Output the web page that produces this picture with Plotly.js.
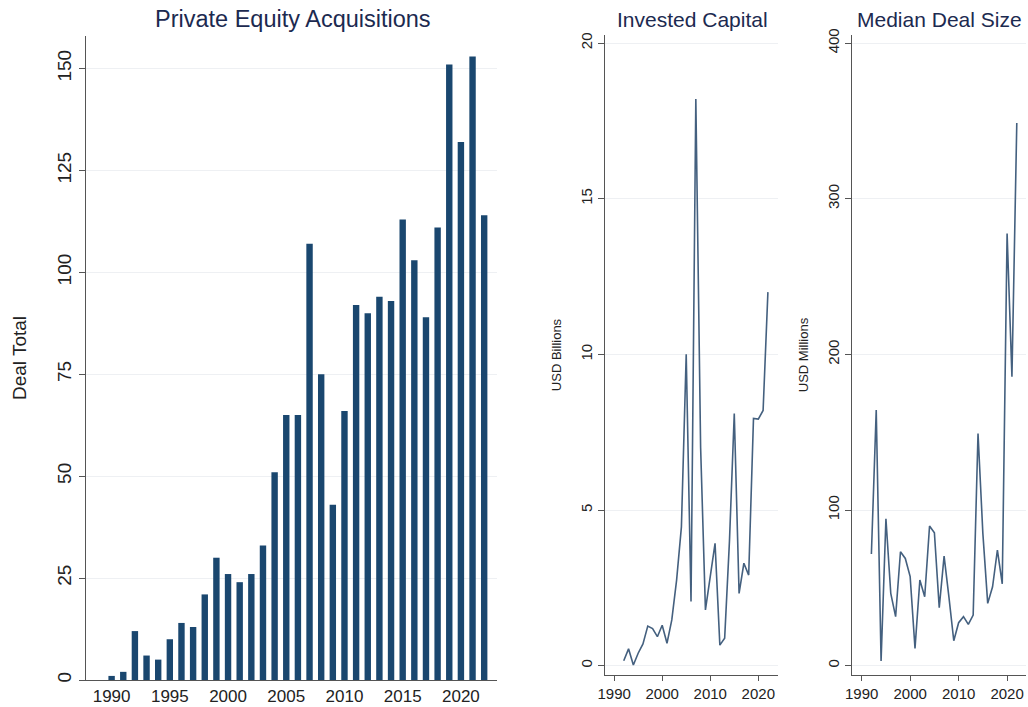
<!DOCTYPE html>
<html>
<head>
<meta charset="utf-8">
<script src="https://cdn.plot.ly/plotly-3.0.1.min.js"></script>
<style>html,body{margin:0;padding:0;background:#fff;}#chart{width:1028px;height:707px;}</style>
</head>
<body>
<div id="chart"></div>
<script>
// Deal totals (bar chart)
const dealYears = [1990,1991,1992,1993,1994,1995,1996,1997,1998,1999,2000,2001,2002,2003,2004,2005,2006,2007,2008,2009,2010,2011,2012,2013,2014,2015,2016,2017,2018,2019,2020,2021,2022];
const dealTotals = [1,2,12,6,5,10,14,13,21,30,26,24,26,33,51,65,65,107,75,43,66,92,90,94,93,113,103,89,111,151,132,153,114];

// Invested capital (USD billions) and median deal size (USD millions)
const lineYears = [1992,1993,1994,1995,1996,1997,1998,1999,2000,2001,2002,2003,2004,2005,2006,2007,2008,2009,2010,2011,2012,2013,2014,2015,2016,2017,2018,2019,2020,2021,2022];
const investedCapital = [0.16,0.54,0.02,0.4,0.7,1.27,1.19,0.93,1.3,0.72,1.47,2.75,4.46,10.0,2.06,18.2,7.0,1.79,2.86,3.93,0.66,0.88,4.0,8.1,2.32,3.29,2.91,7.94,7.92,8.2,12.0];
const medianDealSize = [71.7,164.2,3,94.4,46.5,31.5,73.2,68.9,57.2,11.1,55,44.3,89.7,85.4,37.3,70.4,44,16,27.6,31.5,26.5,32.5,149.2,85,40,50.7,74.3,52.5,277.7,185.6,348.7];

const barTicks = [1990,1995,2000,2005,2010,2015,2020];
const lineTicks = [1990,2000,2010,2020];
const dealTicks = [0,25,50,75,100,125,150];
const capTicks = [0,5,10,15,20];
const medTicks = [0,100,200,300,400];

const FONT = 'Liberation Sans, Arial, Helvetica, sans-serif';
const W = 1028, H = 707;
const px = v => v / W;
const py = v => (H - v) / H;

const traces = [
  {type:'bar', x:dealYears, y:dealTotals, width:0.55, marker:{color:'#1a476f', line:{width:0}}, xaxis:'x', yaxis:'y', hoverinfo:'x+y'},
  {type:'scatter', mode:'lines', x:lineYears, y:investedCapital, line:{color:'#44607f', width:1.6}, xaxis:'x2', yaxis:'y2'},
  {type:'scatter', mode:'lines', x:lineYears, y:medianDealSize, line:{color:'#44607f', width:1.6}, xaxis:'x3', yaxis:'y3'}
];

function xa(domain, range, ticks, size, anchor, tlen){
  return {domain:domain, range:range, tickvals:ticks, ticktext:ticks.map(String), anchor:anchor,
    showgrid:false, zeroline:false, showline:true, linecolor:'#555', linewidth:1.2,
    ticks: tlen > 0 ? 'outside' : '', ticklen:tlen, tickcolor:'#555', tickfont:{family:FONT, size:size, color:'#222'}, fixedrange:true};
}
function ya(domain, range, ticks, size, anchor, title, tsize, standoff){
  return {domain:domain, range:range, tickvals:ticks, ticktext:ticks.map(String), anchor:anchor,
    showgrid:true, gridcolor:'#eef0f3', gridwidth:1, zeroline:false, showline:true, linecolor:'#555', linewidth:1.2,
    ticks:'outside', ticklen:6, tickcolor:'#555', tickangle:-90, tickfont:{family:FONT, size:size, color:'#222'},
    title:{text:title, font:{family:FONT, size:tsize, color:'#222'}, standoff:standoff}, fixedrange:true};
}

const layout = {
  width:W, height:H, margin:{l:0,r:0,t:0,b:0}, paper_bgcolor:'#fff', plot_bgcolor:'#fff', showlegend:false,
  font:{family:FONT},
  xaxis: xa([px(86), px(497)], [1987.8, 2023.1], barTicks, 17, 'y', 0),
  yaxis: ya([py(680), py(36)], [0, 158], dealTicks, 19, 'x', 'Deal Total', 19, 22),
  xaxis2: xa([px(605), px(778)], [1988.1, 2024.1], lineTicks, 15, 'y2', 5),
  yaxis2: ya([py(675), py(35)], [-0.3, 20.26], capTicks, 15, 'x2', 'USD Billions', 13, 13),
  xaxis3: xa([px(852), px(1026)], [1988.0, 2023.9], lineTicks, 15, 'y3', 5),
  yaxis3: ya([py(675), py(35)], [-6, 405.2], medTicks, 15, 'x3', 'USD Millions', 13, 13),
  annotations: [
    {text:'Private Equity Acquisitions', x:px(293), y:py(19), xref:'paper', yref:'paper', showarrow:false, xanchor:'center', yanchor:'middle', font:{family:FONT, size:23.5, color:'#1c2a50'}},
    {text:'Invested Capital', x:px(692), y:py(20), xref:'paper', yref:'paper', showarrow:false, xanchor:'center', yanchor:'middle', font:{family:FONT, size:21, color:'#1c2a50'}},
    {text:'Median Deal Size', x:px(939), y:py(20), xref:'paper', yref:'paper', showarrow:false, xanchor:'center', yanchor:'middle', font:{family:FONT, size:21, color:'#1c2a50'}}
  ]
};

Plotly.newPlot('chart', traces, layout, {displayModeBar:false, staticPlot:true});
</script>
</body>
</html>
